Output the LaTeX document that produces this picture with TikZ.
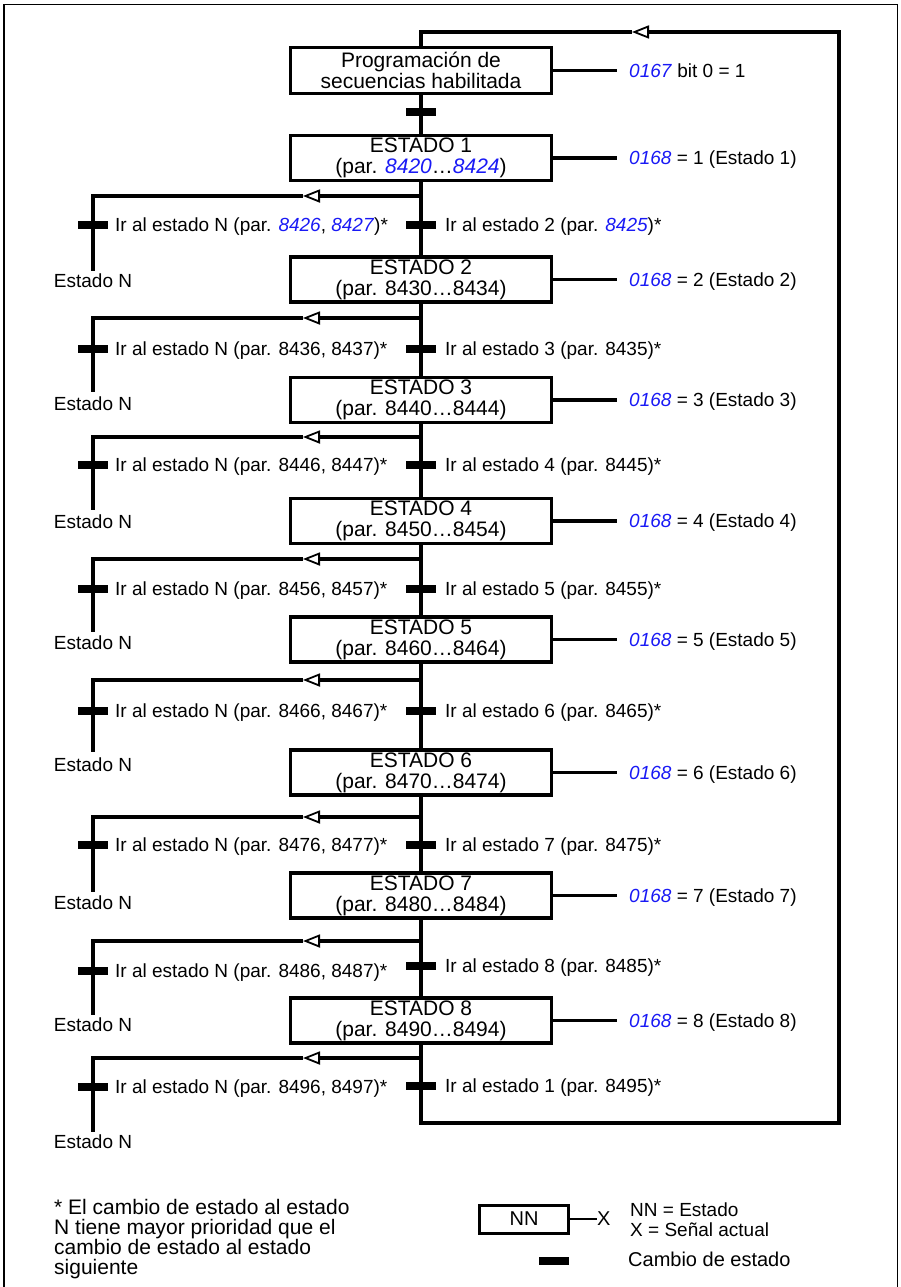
\documentclass[tikz,border=0pt]{standalone}
\usepackage{fontspec}
\setmainfont{Liberation Sans}
\usetikzlibrary{arrows.meta}
\definecolor{pblue}{RGB}{25,25,245}
\newcommand\pn[1]{\textcolor{pblue}{\textit{#1}}}
\begin{document}
\begin{tikzpicture}[x=1pt,y=-1pt,
  conn/.style={line width=3.1pt},
  >={Triangle[open,length=17pt,width=13pt,line width=1.8pt]},
  box/.style={draw,line width=3.1pt,minimum width=261pt,minimum height=45pt,inner sep=0pt,align=center,font=\fontsize{21}{21}\selectfont},
  bar/.style={fill=black,minimum width=30pt,minimum height=8pt,inner sep=0pt},
  lab/.style={font=\fontsize{19}{20}\selectfont,inner sep=0pt,text height=13.6pt,text depth=0pt,anchor=west},
  rlab/.style={lab,inner xsep=12pt},
  enlab/.style={font=\fontsize{19}{20}\selectfont,inner sep=0pt,text height=13.6pt,text depth=0pt}
]
\useasboundingbox (0,0) rectangle (900,1287);
% frame
\draw[line width=1.3pt] (4,1295) -- (4,4.5) -- (897.5,4.5) -- (897.5,1295);

% top box
\node[box,minimum height=46pt] (prog) at (421,70.5) {Programación de\\secuencias habilitada};
\node[rlab] (r0) at (617,70.5) {\pn{0167} bit 0 = 1};
\draw[conn] (prog.east) -- (r0.west);

% state 1
\node[box] (s1) at (421,158) {ESTADO 1\\(par. \pn{8420}…\pn{8424})};
\node[rlab] (r1) at (617,158) {\pn{0168} = 1 (Estado 1)};
\draw[conn] (s1.east) -- (r1.west);
\draw[conn] (prog.south) -- (s1.north);
\node[bar] (t0) at (421,112) {};

% states 2..8
\foreach \k/\yc/\yt/\ytl/\nx/\m in {2/279.5/349/349/3/3, 3/400/465/465/4/4, 4/521/589/589/5/5, 5/639.5/711/711/6/6, 6/772.5/845/845/7/7, 7/895.5/966/971/8/8, 8/1020.5/1086/1087/1/9}{
  \node[box] (s\k) at (421,\yc) {ESTADO \k\\(par. 84\m0…84\m4)};
  \node[rlab] (r\k) at (617,\yc) {\pn{0168} = \k{} (Estado \k)};
  \draw[conn] (s\k.east) -- (r\k.west);
  \node[lab] (cl\k) at (445,\yt) {Ir al estado \nx{} (par. 84\m5)*};
  \node[lab] (ll\k) at (115,\ytl) {Ir al estado N (par. 84\m6, 84\m7)*};
}
\node[lab] (cl1) at (445,225) {Ir al estado 2 (par. \pn{8425})*};
\node[lab] (ll1) at (115,225) {Ir al estado N (par. \pn{8426}, \pn{8427})*};

% vertical main line
\foreach \k [evaluate=\k as \n using int(\k+1)] in {1,...,7}{
  \draw[conn] (s\k.south) -- (s\n.north);
}

% branches
\foreach \k/\yb/\yt/\ytl/\ye/\yn in {1/196/225/225/271/281, 2/318/349/349/392/404, 3/437/465/465/510/522, 4/559/589/589/632/643, 5/680/711/711/752/765, 6/817/845/845/892/903, 7/941/966/971/1015/1025, 8/1058/1086/1087/1132/1142}{
  \coordinate (b\k) at (421,\yb);
  \coordinate (ba\k) at (303,\yb);
  \coordinate (bl\k) at (93,\yb);
  \coordinate (ee\k) at (93,\ye);
  \draw[conn,->] (b\k) -- (ba\k);
  \draw[conn] (ba\k) -- (bl\k) -- (ee\k);
  \node[bar] (tc\k) at (421,\yt) {};
  \node[bar] (tl\k) at (93,\ytl) {};
  \node[enlab] (en\k) at (93,\yn) {Estado N};
}

% loop back
\coordinate (lbr) at (839,1123);
\coordinate (ltr) at (839,32);
\coordinate (lta) at (632,32);
\coordinate (ltl) at (421,32);
\draw[conn,->] (s8.south) |- (lbr) -- (ltr) -- (lta);
\draw[conn] (lta) -- (ltl) -- (prog.north);

% footnote
\node[font=\fontsize{21}{20}\selectfont,align=left,inner sep=0pt,anchor=north west] (fn) at (54,1199) {* El cambio de estado al estado\\N tiene mayor prioridad que el\\cambio de estado al estado\\siguiente};

% legend
\node[draw,line width=3pt,minimum width=89pt,minimum height=28pt,inner sep=0pt,font=\fontsize{20}{20}\selectfont] (nn) at (524,1219) {NN};
\node[lab,font=\fontsize{20}{20}\selectfont] (xx) at (597,1219) {X};
\draw[line width=2.6pt] (nn.east) -- (xx.west);
\node[font=\fontsize{19}{20}\selectfont,align=left,inner sep=0pt,anchor=west] (leg) at (630,1220) {NN = Estado\\X = Señal actual};
\node[bar] (lb) at (554,1261) {};
\node[lab,font=\fontsize{20}{20}\selectfont] (lc) at (628,1260) {Cambio de estado};
\end{tikzpicture}
\end{document}
